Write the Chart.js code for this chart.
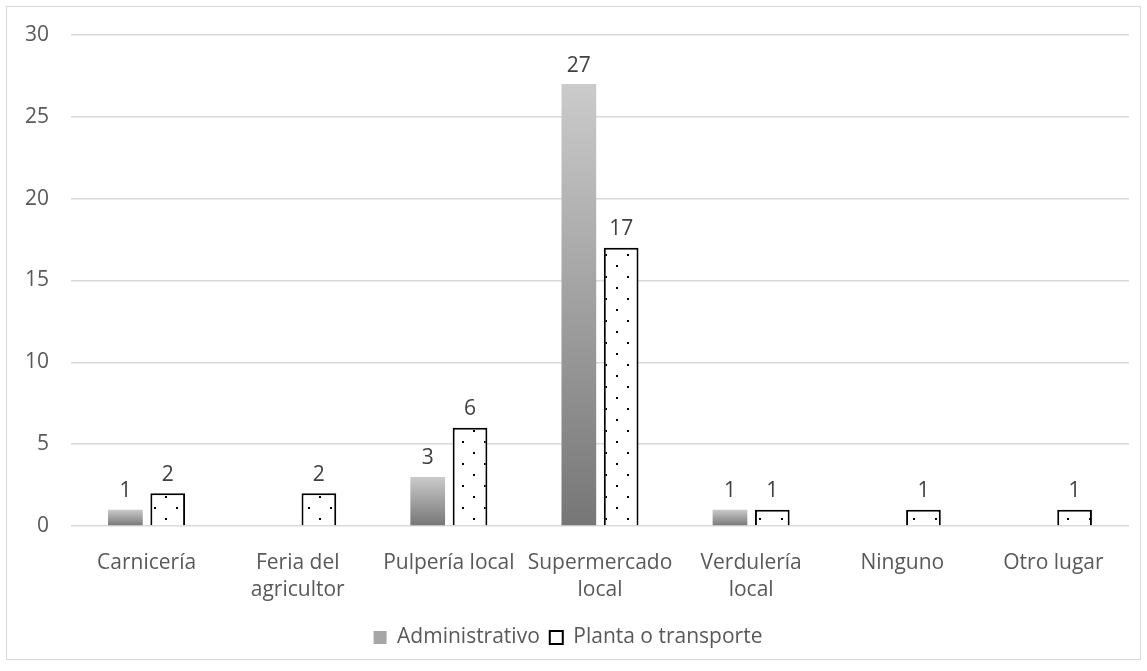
<!DOCTYPE html>
<html>
<head>
<meta charset="utf-8">
<script src="https://cdn.jsdelivr.net/npm/chart.js@4.4.0/dist/chart.umd.min.js"></script>
<style>
  body { margin: 0; background: #fff; }
  #wrap {
    position: absolute; left: 6px; top: 6px;
    width: 1133px; height: 652px;
    border: 1px solid #d9d9d9;
  }
</style>
</head>
<body>
<div id="wrap"><canvas id="chart"></canvas></div>
<script>
const categories = [
  "Carnicería",
  ["Feria del", "agricultor"],
  "Pulpería local",
  ["Supermercado", "local"],
  ["Verdulería", "local"],
  "Ninguno",
  "Otro lugar",
];
const administrativo = [1, 0, 3, 27, 1, 0, 0];
const plantaTransporte = [2, 2, 6, 17, 1, 1, 1];
const yTicks = [0, 5, 10, 15, 20, 25, 30];

const FONT = "'Open Sans', sans-serif";
const TEXT = "#595959";

// dotted fill for the second series
const tile = document.createElement("canvas");
tile.width = 22;
tile.height = 22;
const tctx = tile.getContext("2d");
tctx.fillStyle = "#fff";
tctx.fillRect(0, 0, 22, 22);
tctx.fillStyle = "#000";
tctx.fillRect(4, 5, 2, 2);
tctx.fillRect(15, 16, 2, 2);
const dots = tctx.createPattern(tile, "repeat");

// vertical grey gradient per bar
function greyBar(c) {
  const chart = c.chart;
  const y = chart.scales.y;
  if (c.type !== "data" || !y) return "#a6a6a6";
  const top = y.getPixelForValue(c.raw);
  const bot = y.getPixelForValue(0);
  if (!isFinite(top) || top === bot) return "#a6a6a6";
  const g = chart.ctx.createLinearGradient(0, top, 0, bot);
  g.addColorStop(0, "#cbcbcb");
  g.addColorStop(1, "#767676");
  return g;
}

const valueLabels = {
  id: "valueLabels",
  afterDatasetsDraw(chart) {
    const ctx = chart.ctx;
    ctx.save();
    ctx.font = "21px " + FONT;
    ctx.fillStyle = "#404040";
    ctx.textAlign = "center";
    ctx.textBaseline = "bottom";
    chart.data.datasets.forEach((ds, i) => {
      chart.getDatasetMeta(i).data.forEach((bar, j) => {
        if (!ds.data[j]) return;
        ctx.fillText(ds.data[j], bar.x, bar.y - 8);
      });
    });
    ctx.restore();
  },
};

const ctx = document.getElementById("chart").getContext("2d");

new Chart(ctx, {
  type: "bar",
  data: {
    labels: categories,
    datasets: [
      {
        label: "Administrativo",
        data: administrativo,
        backgroundColor: greyBar,
        borderWidth: 0,
        categoryPercentage: 0.56,
        barPercentage: 0.82,
      },
      {
        label: "Planta o transporte",
        data: plantaTransporte,
        backgroundColor: dots,
        borderColor: "#000",
        borderWidth: 2,
        categoryPercentage: 0.56,
        barPercentage: 0.82,
      },
    ],
  },
  options: {
    responsive: true,
    maintainAspectRatio: false,
    animation: false,
    layout: { padding: { top: 28, right: 11, bottom: 1, left: 0 } },
    plugins: {
      tooltip: { enabled: false },
      legend: {
        position: "bottom",
        labels: {
          font: { family: FONT, size: 21 },
          color: TEXT,
          boxWidth: 13,
          boxHeight: 13,
          padding: 10,
          generateLabels: () => [
            { text: "Administrativo", fillStyle: "#a6a6a6", strokeStyle: "#a6a6a6", lineWidth: 0, fontColor: TEXT, datasetIndex: 0 },
            { text: "Planta o transporte", fillStyle: "#fff", strokeStyle: "#000", lineWidth: 2, fontColor: TEXT, datasetIndex: 1 },
          ],
        },
      },
    },
    scales: {
      x: {
        grid: { display: false },
        border: { display: false },
        ticks: {
          font: { family: FONT, size: 21, lineHeight: 1.3 },
          color: TEXT,
          padding: 15,
          maxRotation: 0,
          autoSkip: false,
        },
        afterFit(scale) { scale.height = 91; },
      },
      y: {
        min: 0,
        max: 30,
        afterBuildTicks(scale) { scale.ticks = yTicks.map((v) => ({ value: v })); },
        grid: { color: "#d9d9d9", lineWidth: 1.5, drawTicks: false },
        border: { display: false },
        ticks: {
          font: { family: FONT, size: 21 },
          color: TEXT,
          padding: 22,
        },
        afterFit(scale) {
          scale.width = 64;
          scale.paddingTop = 0;
          scale.paddingBottom = 0;
        },
      },
    },
  },
  plugins: [valueLabels],
});
</script>
</body>
</html>
